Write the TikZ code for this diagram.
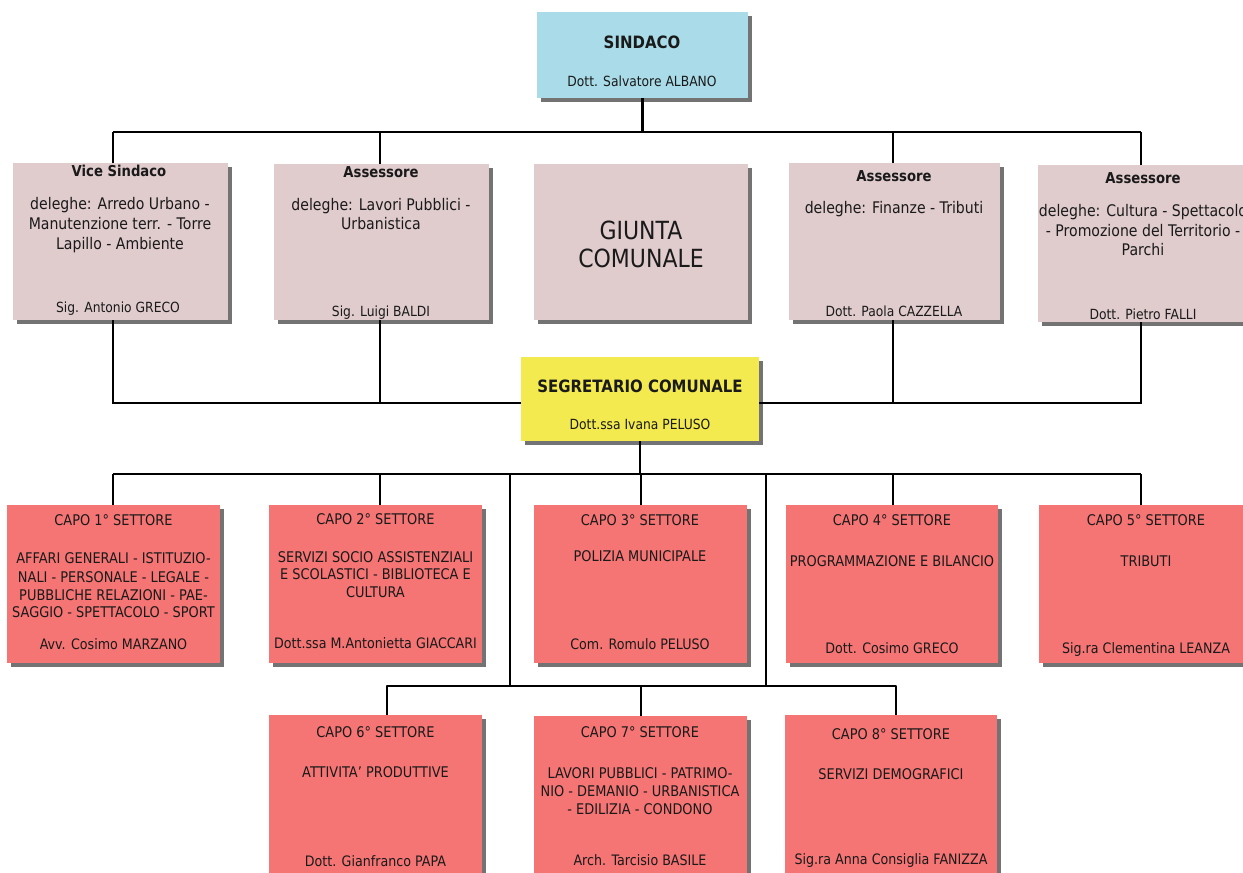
\documentclass[tikz,border=0pt]{standalone}
\usepackage{fontspec}
\setmainfont{DejaVu Sans}[FakeStretch=0.88]
\usetikzlibrary{shadows}
\definecolor{cblue}{RGB}{169,220,232}
\definecolor{cpink}{RGB}{224,203,205}
\definecolor{cyel}{RGB}{242,234,78}
\definecolor{cred}{RGB}{245,116,116}
\definecolor{ctext}{RGB}{26,26,26}
\begin{document}
\begin{tikzpicture}[x=1pt,y=-1pt,
  box/.style={anchor=north west, inner sep=0pt, outer sep=0pt,
    drop shadow={shadow xshift=4pt,shadow yshift=-4pt,fill=black!55,opacity=1}},
  bluebox/.style={box,fill=cblue},
  pinkbox/.style={box,fill=cpink},
  yelbox/.style={box,fill=cyel},
  redbox/.style={box,fill=cred},
  conn/.style={line width=2.8pt,draw=black},
  lbl/.style={inner sep=0pt,text=ctext,text depth=0pt,anchor=center},
  tbig/.style={lbl,font=\fontsize{17}{20}\selectfont\bfseries,text height=12.4pt},
  ttitle/.style={lbl,font=\fontsize{15}{18}\selectfont\bfseries,text height=11pt},
  tbody/.style={lbl,font=\fontsize{16}{19}\selectfont,text height=11.7pt},
  tname/.style={lbl,font=\fontsize{14}{17}\selectfont,text height=10.2pt},
  tgiunta/.style={lbl,font=\fontsize{25}{29}\selectfont,text height=18.2pt},
  tcapo/.style={lbl,font=\fontsize{14.7}{17}\selectfont,text height=10.7pt},
  tcapon/.style={lbl,font=\fontsize{14.4}{17}\selectfont,text height=10.5pt},
]
\fill[white] (0,0) rectangle (1243,873);
\path[use as bounding box] (0,0) rectangle (1243,873);
\clip (0,0) rectangle (1243,873);

% ---------- boxes ----------
\node[bluebox,minimum width=211pt,minimum height=86pt] (sind) at (537,12) {};
\node[pinkbox,minimum width=215pt,minimum height=157pt] (vs)  at (13,163) {};
\node[pinkbox,minimum width=215pt,minimum height=156pt] (as2) at (274,164) {};
\node[pinkbox,minimum width=214pt,minimum height=156pt] (giu) at (534,164) {};
\node[pinkbox,minimum width=211pt,minimum height=157pt] (as4) at (789,163) {};
\node[pinkbox,minimum width=210pt,minimum height=157pt] (as5) at (1038,165) {};
\node[yelbox,minimum width=238pt,minimum height=84pt] (seg) at (521,357) {};
\node[redbox,minimum width=213pt,minimum height=158pt] (c1) at (7,505) {};
\node[redbox,minimum width=213pt,minimum height=158pt] (c2) at (269,505) {};
\node[redbox,minimum width=213pt,minimum height=158pt] (c3) at (534,505) {};
\node[redbox,minimum width=212pt,minimum height=158pt] (c4) at (786,505) {};
\node[redbox,minimum width=214pt,minimum height=158pt] (c5) at (1039,505) {};
\node[redbox,minimum width=213pt,minimum height=170pt] (c6) at (269,715) {};
\node[redbox,minimum width=213pt,minimum height=170pt] (c7) at (534,716) {};
\node[redbox,minimum width=212pt,minimum height=170pt] (c8) at (785,715) {};

% ---------- texts ----------
\node[tbig] (sindA) at (642,42.5) {SINDACO};
\node[tname] (sindB) at (642,81) {Dott. Salvatore ALBANO};

\node[ttitle] (vsA) at (119,171) {Vice Sindaco};
\node[tbody] (vsB) at (120,203.5) {deleghe: Arredo Urbano -};
\node[tbody] (vsC) at (120,224) {Manutenzione terr. - Torre};
\node[tbody] (vsD) at (120,243.7) {Lapillo - Ambiente};
\node[tname] (vsE) at (118,307) {Sig. Antonio GRECO};

\node[ttitle] (as2A) at (381,172) {Assessore};
\node[tbody] (as2B) at (381,205) {deleghe: Lavori Pubblici -};
\node[tbody] (as2C) at (381,224) {Urbanistica};
\node[tname] (as2D) at (381,311) {Sig. Luigi BALDI};

\node[tgiunta] (giuA) at (641,230) {GIUNTA};
\node[tgiunta] (giuB) at (641,258.7) {COMUNALE};

\node[ttitle] (as4A) at (894,175.5) {Assessore};
\node[tbody] (as4B) at (894,208) {deleghe: Finanze - Tributi};
\node[tname] (as4C) at (894,311) {Dott. Paola CAZZELLA};

\node[ttitle] (as5A) at (1143,177.5) {Assessore};
\node[tbody] (as5B) at (1143,211) {deleghe: Cultura - Spettacolo};
\node[tbody] (as5C) at (1143,231) {- Promozione del Territorio -};
\node[tbody] (as5D) at (1143,250) {Parchi};
\node[tname] (as5E) at (1143,314) {Dott. Pietro FALLI};

\node[tbig] (segA) at (640,386) {SEGRETARIO COMUNALE};
\node[tname] (segB) at (640,424) {Dott.ssa Ivana PELUSO};

\node[tcapo] (c1A) at (113.5,520) {CAPO 1° SETTORE};
\node[tcapo] (c1B) at (113.5,558.3) {AFFARI GENERALI - ISTITUZIO-};
\node[tcapo] (c1C) at (113.5,577) {NALI - PERSONALE - LEGALE -};
\node[tcapo] (c1D) at (113.5,595) {PUBBLICHE RELAZIONI - PAE-};
\node[tcapo] (c1E) at (113.5,612.5) {SAGGIO - SPETTACOLO - SPORT};
\node[tcapon] (c1F) at (113.5,644) {Avv. Cosimo MARZANO};

\node[tcapo] (c2A) at (375.5,519.5) {CAPO 2° SETTORE};
\node[tcapo] (c2B) at (375.5,556.8) {SERVIZI SOCIO ASSISTENZIALI};
\node[tcapo] (c2C) at (375.5,574.5) {E SCOLASTICI - BIBLIOTECA E};
\node[tcapo] (c2D) at (375.5,591.7) {CULTURA};
\node[tcapon] (c2E) at (375.5,643) {Dott.ssa M.Antonietta GIACCARI};

\node[tcapo] (c3A) at (640,520.5) {CAPO 3° SETTORE};
\node[tcapo] (c3B) at (640,555.8) {POLIZIA MUNICIPALE};
\node[tcapon] (c3C) at (640,644.5) {Com. Romulo PELUSO};

\node[tcapo] (c4A) at (892,520) {CAPO 4° SETTORE};
\node[tcapo] (c4B) at (892,561) {PROGRAMMAZIONE E BILANCIO};
\node[tcapon] (c4C) at (892,648) {Dott. Cosimo GRECO};

\node[tcapo] (c5A) at (1146,520) {CAPO 5° SETTORE};
\node[tcapo] (c5B) at (1146,561) {TRIBUTI};
\node[tcapon] (c5C) at (1146,648) {Sig.ra Clementina LEANZA};

\node[tcapo] (c6A) at (375.5,732.5) {CAPO 6° SETTORE};
\node[tcapo] (c6B) at (375.5,772) {ATTIVITA’ PRODUTTIVE};
\node[tcapon] (c6C) at (375.5,860.8) {Dott. Gianfranco PAPA};

\node[tcapo] (c7A) at (640,732.5) {CAPO 7° SETTORE};
\node[tcapo] (c7B) at (640,773) {LAVORI PUBBLICI - PATRIMO-};
\node[tcapo] (c7C) at (640,791) {NIO - DEMANIO - URBANISTICA};
\node[tcapo] (c7D) at (640,809) {- EDILIZIA - CONDONO};
\node[tcapon] (c7E) at (640,860.5) {Arch. Tarcisio BASILE};

\node[tcapo] (c8A) at (891,734) {CAPO 8° SETTORE};
\node[tcapo] (c8B) at (891,774) {SERVIZI DEMOGRAFICI};
\node[tcapon] (c8C) at (891,859.5) {Sig.ra Anna Consiglia FANIZZA};

% ---------- connectors ----------
\coordinate (t1) at (113,132);
\coordinate (t2) at (380,132);
\coordinate (t4) at (893,132);
\coordinate (t5) at (1141,132);
\draw[conn] (sind.south) -- (sind.south |- t1);
\draw[conn] (t1) -- (t5);
\draw[conn] (t1) -- (t1 |- vs.north);
\draw[conn] (t2) -- (t2 |- as2.north);
\draw[conn] (t4) -- (t4 |- as4.north);
\draw[conn] (t5) -- (t5 |- as5.north);

\coordinate (m1) at (113,403);
\coordinate (m2) at (380,403);
\coordinate (m4) at (893,403);
\coordinate (m5) at (1141,403);
\draw[conn] (vs.south -| m1) -- (m1) -- (m1 -| seg.west);
\draw[conn] (as2.south -| m2) -- (m2);
\draw[conn] (as4.south -| m4) -- (m4);
\draw[conn] (as5.south -| m5) -- (m5) -- (m5 -| seg.east);

\coordinate (b1) at (113,474);
\coordinate (b2) at (380,474);
\coordinate (bL) at (510,474);
\coordinate (b3) at (641,474);
\coordinate (bR) at (766,474);
\coordinate (b4) at (893,474);
\coordinate (b5) at (1141,474);
\draw[conn] (seg.south) -- (seg.south |- b1);
\draw[conn] (b1) -- (b5);
\draw[conn] (b1) -- (b1 |- c1.north);
\draw[conn] (b2) -- (b2 |- c2.north);
\draw[conn] (b3) -- (b3 |- c3.north);
\draw[conn] (b4) -- (b4 |- c4.north);
\draw[conn] (b5) -- (b5 |- c5.north);

\coordinate (d6) at (387,686);
\coordinate (d7) at (641,686);
\coordinate (d8) at (896,686);
\draw[conn] (bL) -- (bL |- d6);
\draw[conn] (bR) -- (bR |- d6);
\draw[conn,line join=round] (d6 |- c6.north) -- (d6) -- (d8) -- (d8 |- c8.north);
\draw[conn] (d7) -- (d7 |- c7.north);
\end{tikzpicture}
\end{document}
